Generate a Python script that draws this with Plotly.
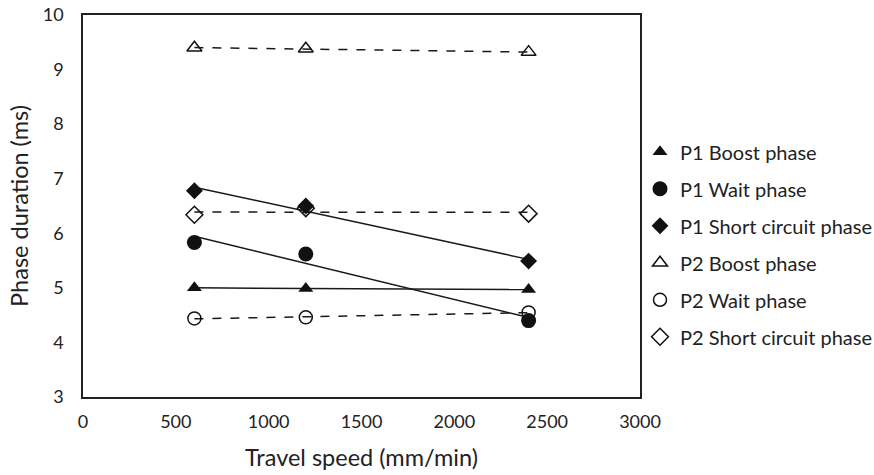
import numpy as np
import plotly.graph_objects as go

travel_speed = [600, 1200, 2400]
p1_boost = [5.00, 4.99, 4.97]
p1_wait = [5.83, 5.62, 4.40]
p1_short = [6.78, 6.50, 5.49]
p2_boost = [9.40, 9.38, 9.32]
p2_wait = [4.44, 4.46, 4.55]
p2_short = [6.34, 6.46, 6.36]

series = [
    ("P1 Boost phase", p1_boost, "triangle-up", "solid"),
    ("P1 Wait phase", p1_wait, "circle", "solid"),
    ("P1 Short circuit phase", p1_short, "diamond", "solid"),
    ("P2 Boost phase", p2_boost, "triangle-up-open", "dash"),
    ("P2 Wait phase", p2_wait, "circle-open", "dash"),
    ("P2 Short circuit phase", p2_short, "diamond-open", "dash"),
]
sizes = {"triangle-up": 13, "circle": 15, "diamond": 13,
         "triangle-up-open": 13, "circle-open": 13, "diamond-open": 13}

fig = go.Figure()
x = np.array(travel_speed, dtype=float)
for name, ys, sym, dash in series:
    k, b = np.polyfit(x, np.array(ys), 1)
    xl = np.array([x.min(), x.max()])
    fig.add_trace(go.Scatter(x=xl, y=k * xl + b, mode="lines",
                             line=dict(color="#1a1a1a", width=1.5, dash=dash),
                             showlegend=False, hoverinfo="skip"))
for name, ys, sym, dash in series:
    fig.add_trace(go.Scatter(x=travel_speed, y=ys, mode="markers", name=name,
                             legendgroup=name,
                             marker=dict(symbol=sym, size=sizes[sym], color="#111111",
                                         line=dict(color="#111111", width=1.5) if "open" in sym else dict(width=0))))

font = "Lato, 'Open Sans', sans-serif"
fig.update_layout(
    width=874, height=475,
    margin=dict(l=83, r=234, t=15, b=78, autoexpand=False),
    plot_bgcolor="white", paper_bgcolor="white",
    font=dict(family=font, color="#222222", size=18),
    legend=dict(x=1.0, y=0.693, xanchor="left", yanchor="top",
                font=dict(size=20, color="#222222"), tracegroupgap=8,
                itemwidth=30, bgcolor="rgba(0,0,0,0)"),
    xaxis=dict(range=[0, 3000], dtick=500, showgrid=False, zeroline=False,
               showline=True, linecolor="#222222", linewidth=1.5, mirror=True,
               ticks="", tickfont=dict(size=18), automargin=False, ticklabelstandoff=8,
               title=dict(text="Travel speed (mm/min)", font=dict(size=23.5), standoff=18)),
    yaxis=dict(range=[3, 10], dtick=1, showgrid=False, zeroline=False,
               showline=True, linecolor="#222222", linewidth=1.5, mirror=True,
               ticks="", tickfont=dict(size=18), automargin=False, ticklabelstandoff=14,
               title=dict(text="Phase duration (ms)", font=dict(size=23.5), standoff=8)),
)
fig.write_html("out.html", config={"displayModeBar": False},
               post_script="document.body.style.margin='0';")
